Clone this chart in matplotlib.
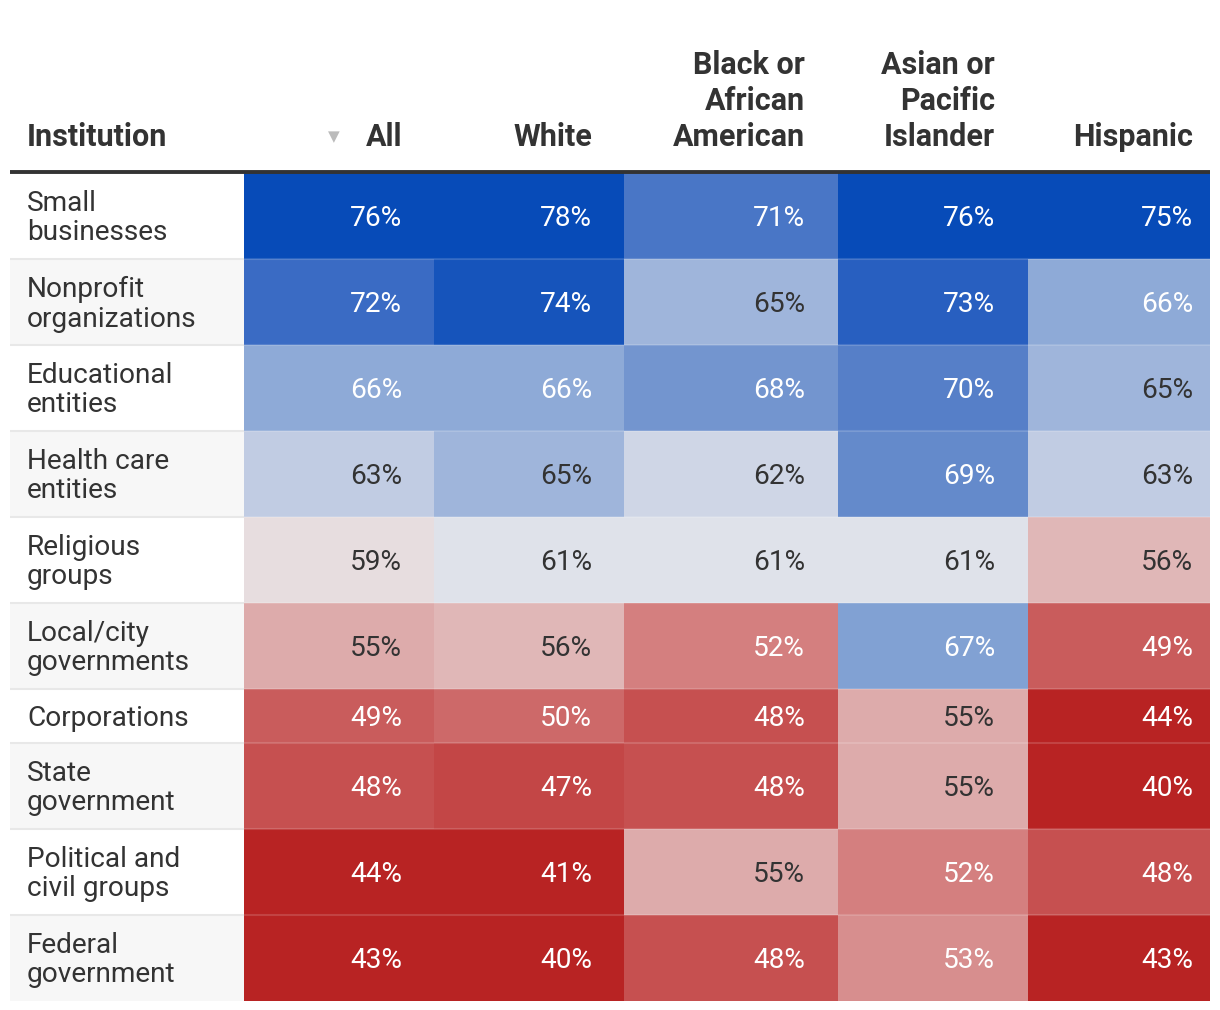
import matplotlib
matplotlib.use("Agg")
import matplotlib.pyplot as plt
from matplotlib.colors import LinearSegmentedColormap, Normalize
from matplotlib.patches import Rectangle

# ---- data ----
institutions = ["Small\nbusinesses", "Nonprofit\norganizations", "Educational\nentities",
                "Health care\nentities", "Religious\ngroups", "Local/city\ngovernments",
                "Corporations", "State\ngovernment", "Political and\ncivil groups",
                "Federal\ngovernment"]
groups = ["All", "White", "Black or\nAfrican\nAmerican", "Asian or\nPacific\nIslander", "Hispanic"]
all_pct = [76, 72, 66, 63, 59, 55, 49, 48, 44, 43]
white_pct = [78, 74, 66, 65, 61, 56, 50, 47, 41, 40]
black_pct = [71, 65, 68, 62, 61, 52, 48, 48, 55, 48]
asian_pct = [76, 73, 70, 69, 61, 67, 55, 55, 52, 53]
hispanic_pct = [75, 66, 65, 63, 56, 49, 44, 40, 48, 43]
series = [all_pct, white_pct, black_pct, asian_pct, hispanic_pct]

# ---- style ----
plt.rcParams['font.family'] = ['Roboto', 'DejaVu Sans']
W, H = 1220, 1010
fig = plt.figure(figsize=(W / 100, H / 100), dpi=100)
ax = fig.add_axes([0, 0, 1, 1])
ax.set_xlim(0, W)
ax.set_ylim(H, 0)
ax.axis('off')

vmin, vmax = 40, 78
nodes = [(40, '#b82323'), (44, '#b82323'), (52, '#d48080'), (56, '#e0b8b8'),
         (59.5, '#e8e2e4'), (61, '#dfe2ea'), (63, '#c0cbe3'), (66, '#8fabd7'),
         (69, '#658bcb'), (72, '#3b6bc4'), (75, '#074bb8'), (78, '#074bb8')]
cmap = LinearSegmentedColormap.from_list(
    'rb', [((v - vmin) / (vmax - vmin), c) for v, c in nodes])
norm = Normalize(vmin, vmax)

col_edges = [244, 434, 624, 838, 1028, 1210]
text_right = [402, 592, 805, 995, 1193]
left = 10
top = 173
dark = '#333333'

# header
for j, g in enumerate(groups):
    ax.text(text_right[j], 146, g, ha='right', va='baseline', fontsize=22,
            fontweight='bold', color=dark, linespacing=1.24)
ax.text(27, 146, "Institution", ha='left', va='baseline', fontsize=22,
        fontweight='bold', color=dark)
ax.text(334, 137, "\u25BC", ha='center', va='center', fontsize=11,
        color='#bbbbbb', family='DejaVu Sans')
ax.plot([left, 1210], [171.5, 171.5], color=dark, lw=2.8, solid_capstyle='butt')

# rows
y = top
for i, lab in enumerate(institutions):
    h = 86 if '\n' in lab else 54
    bg = '#ffffff' if i % 2 == 0 else '#f7f7f7'
    ax.add_patch(Rectangle((left, y), col_edges[0] - left, h, facecolor=bg,
                           edgecolor='none'))
    yc = y + h / 2
    ax.text(27, yc + 2, lab, ha='left', va='center', fontsize=20.2, color=dark,
            linespacing=1.14)
    for j, s in enumerate(series):
        v = s[i]
        ax.add_patch(Rectangle((col_edges[j], y), col_edges[j + 1] - col_edges[j], h,
                               facecolor=cmap(norm(v)), edgecolor='none'))
        tc = 'white' if (v >= 66 or v <= 53) else dark
        ax.text(text_right[j], yc + 2, f"{v}%", ha='right', va='center',
                fontsize=20.2, color=tc)
    if i > 0:
        ax.plot([left, col_edges[0]], [y, y], color='#e8e8e8', lw=1.5,
                solid_capstyle='butt')
        ax.plot([col_edges[0], col_edges[-1]], [y, y], color='white', alpha=0.15,
                lw=1.5, solid_capstyle='butt')
    y += h

fig.savefig('out.png', dpi=100)
